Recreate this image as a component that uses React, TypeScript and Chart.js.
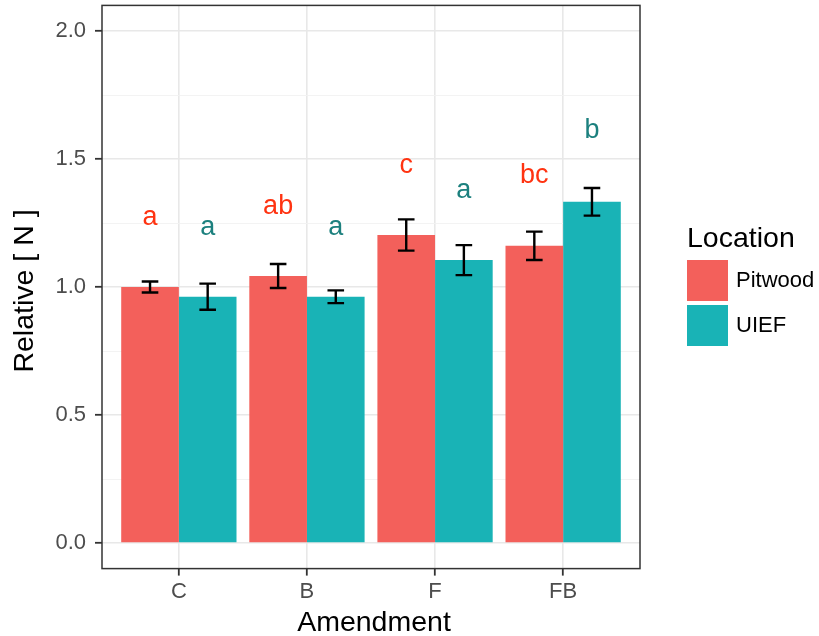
import React, { useEffect, useRef } from "react";
import { Chart, registerables } from "chart.js";
Chart.register(...registerables);

const categories = ["C", "B", "F", "FB"];
const seriesNames = ["Pitwood", "UIEF"];
const pitwoodMean = [1.0, 1.043, 1.203, 1.161];
const pitwoodSE = [0.0215, 0.047, 0.061, 0.0555];
const uiefMean = [0.962, 0.962, 1.105, 1.333];
const uiefSE = [0.051, 0.025, 0.0586, 0.054];
const pitwoodLetters = ["a", "ab", "c", "bc"];
const uiefLetters = ["a", "a", "a", "b"];
const pitwoodLetterY = [1.242, 1.285, 1.444, 1.405];
const uiefLetterY = [1.203, 1.203, 1.346, 1.581];
const yMajorTicks = [0, 0.5, 1.0, 1.5, 2.0];
const yMinorTicks = [0.25, 0.75, 1.25, 1.75];

const xTitle = "Amendment";
const yTitle = "Relative [ N ]";
const legendTitle = "Location";

const FONT = "'Liberation Sans', Arial, Helvetica, sans-serif";
const barColors = ["#F3605B", "#19B3B6"];
const letterColors = ["#FF3311", "#1C807E"];

const isMajor = (v: number) => yMajorTicks.some((m) => Math.abs(m - v) < 1e-9);

const overlay = {
  id: "overlay",
  afterDatasetsDraw(chart: any) {
    const ctx = chart.ctx;
    const ys = chart.scales.y;
    const means = [pitwoodMean, uiefMean];
    const ses = [pitwoodSE, uiefSE];
    const letters = [pitwoodLetters, uiefLetters];
    const letterYs = [pitwoodLetterY, uiefLetterY];
    ctx.save();
    for (let d = 0; d < 2; d++) {
      const meta = chart.getDatasetMeta(d);
      meta.data.forEach((el: any, j: number) => {
        const x = el.x;
        const yt = ys.getPixelForValue(means[d][j] + ses[d][j]);
        const yb = ys.getPixelForValue(means[d][j] - ses[d][j]);
        ctx.strokeStyle = "#000";
        ctx.lineWidth = 2.4;
        ctx.beginPath();
        ctx.moveTo(x, yt);
        ctx.lineTo(x, yb);
        ctx.moveTo(x - 8.3, yt);
        ctx.lineTo(x + 8.3, yt);
        ctx.moveTo(x - 8.3, yb);
        ctx.lineTo(x + 8.3, yb);
        ctx.stroke();
        ctx.fillStyle = letterColors[d];
        ctx.font = `27px ${FONT}`;
        ctx.textAlign = "center";
        ctx.textBaseline = "alphabetic";
        ctx.fillText(letters[d][j], x, ys.getPixelForValue(letterYs[d][j]));
      });
    }
    ctx.restore();
  },
  afterDraw(chart: any) {
    const ctx = chart.ctx;
    const a = chart.chartArea;
    ctx.save();
    ctx.strokeStyle = "#333333";
    ctx.lineWidth = 1.5;
    ctx.strokeRect(a.left, a.top, a.right - a.left, a.bottom - a.top);

    ctx.fillStyle = "#000";
    ctx.font = `28.5px ${FONT}`;
    ctx.textAlign = "center";
    ctx.textBaseline = "alphabetic";
    ctx.fillText(xTitle, (a.left + a.right) / 2 + 3, 631);

    ctx.save();
    ctx.translate(33, (a.top + a.bottom) / 2 + 4);
    ctx.rotate(-Math.PI / 2);
    ctx.fillText(yTitle, 0, 0);
    ctx.restore();

    // legend
    ctx.textAlign = "left";
    ctx.fillText(legendTitle, 687, 247);
    const keyTops = [260, 305];
    ctx.font = `22px ${FONT}`;
    ctx.textBaseline = "middle";
    seriesNames.forEach((name, i) => {
      ctx.fillStyle = barColors[i];
      ctx.fillRect(687, keyTops[i], 41, 41);
      ctx.fillStyle = "#000";
      ctx.fillText(name, 736, keyTops[i] + 21);
    });
    ctx.restore();
  },
};

const zeroPad = (s: any) => {
  s.paddingTop = 0;
  s.paddingBottom = 0;
  s.paddingLeft = 0;
  s.paddingRight = 0;
};

export default function App() {
  const ref = useRef<HTMLCanvasElement>(null);
  useEffect(() => {
    document.body.style.margin = "0";
    const canvas = ref.current!;
    const chart = new Chart(canvas, {
      type: "bar",
      data: {
        datasets: [
          {
            label: seriesNames[0],
            data: pitwoodMean.map((v, i) => ({ x: i + 1, y: v })),
            backgroundColor: barColors[0],
            borderWidth: 0,
          },
          {
            label: seriesNames[1],
            data: uiefMean.map((v, i) => ({ x: i + 1, y: v })),
            backgroundColor: barColors[1],
            borderWidth: 0,
          },
        ],
      },
      options: {
        animation: false,
        responsive: false,
        devicePixelRatio: 1,
        layout: { padding: { top: 5.4, right: 179, bottom: 0, left: 0 } },
        datasets: { bar: { categoryPercentage: 0.9, barPercentage: 1.0 } },
        plugins: { legend: { display: false }, tooltip: { enabled: false } },
        scales: {
          x: {
            type: "linear",
            min: 0.4,
            max: 4.6,
            offset: false,
            afterBuildTicks: (s: any) => {
              s.ticks = categories.map((_, i) => ({ value: i + 1 }));
            },
            afterFit: (s: any) => {
              s.height = 67.4;
              zeroPad(s);
            },
            ticks: {
              callback: (v: any) => categories[Math.round(v) - 1] ?? "",
              font: { family: FONT, size: 22 },
              color: "#4D4D4D",
              padding: 3,
              maxRotation: 0,
              autoSkip: false,
            },
            grid: {
              offset: false,
              color: "#E8E8E8",
              lineWidth: 1.6,
              tickColor: "#333333",
              tickWidth: 1.8,
              tickLength: 7,
            },
            border: { display: false },
          },
          y: {
            type: "linear",
            min: -0.1,
            max: 2.1,
            afterBuildTicks: (s: any) => {
              const all = [...yMajorTicks, ...yMinorTicks].sort((p, q) => p - q);
              s.ticks = all.map((v) => ({ value: v }));
            },
            afterFit: (s: any) => {
              s.width = 102;
              zeroPad(s);
            },
            ticks: {
              callback: (v: any) => (isMajor(v) ? Number(v).toFixed(1) : ""),
              font: { family: FONT, size: 22 },
              color: "#4D4D4D",
              padding: 9,
              autoSkip: false,
            },
            grid: {
              color: (c: any) => (isMajor(c.tick.value) ? "#E8E8E8" : "#F2F2F2"),
              lineWidth: (c: any) => (isMajor(c.tick.value) ? 1.6 : 0.9),
              tickColor: (c: any) => (isMajor(c.tick.value) ? "#333333" : "rgba(0,0,0,0)"),
              tickWidth: 1.8,
              tickLength: 7,
            },
            border: { display: false },
          },
        },
      },
      plugins: [overlay],
    });
    return () => chart.destroy();
  }, []);
  return (
    <div style={{ width: 819, height: 636, background: "#fff" }}>
      <canvas ref={ref} width={819} height={636} />
    </div>
  );
}
